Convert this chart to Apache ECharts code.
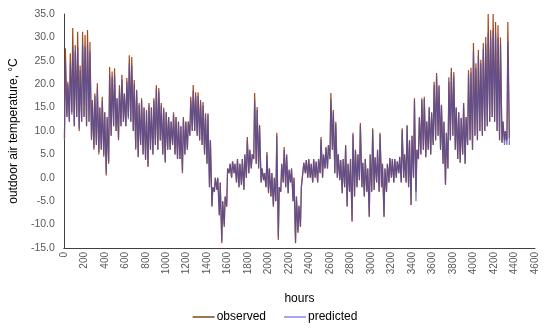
<!DOCTYPE html>
<html>
<head>
<meta charset="utf-8">
<script src="https://cdn.jsdelivr.net/npm/echarts@6/dist/echarts.min.js"></script>
<style>html,body{margin:0;padding:0;background:#fff;}#c{width:550px;height:330px;}</style>
</head>
<body>
<div id="c"></div>
<script>
// Daily high / low temperatures (°C), one value per day (24 h)
const obsHigh = [
  27.7, 20.5, 26.6, 32, 28.4, 31.2, 24, 31.2, 30.5, 31.6,
  29, 16.6, 18, 20.2, 15, 17.3, 14, 13, 23.7, 22.7,
  23.4, 17, 19.8, 22, 18, 21.3, 26.2, 25.8, 20.9, 18.8,
  16, 17, 15, 14.5, 16, 15, 17, 19.8, 19.2, 16,
  15, 14, 13, 12, 14, 13, 12, 11, 13, 12,
  12, 17.3, 19.8, 18.3, 18.3, 16.6, 16.2, 13.8, 13.8, 8,
  -2, 0, 0, -1, -5, -4, 2, 3, 3.5, 3,
  4, 3, 4, 5, 8.7, 6, 5, 18.1, 15.1, 11.3,
  2, 1, 5.5, 2, 1, 0, 9.6, -2, 3, 6.6,
  5, 1.7, 2, 0, -4, -6, -2, 3.2, 3.8, 4,
  3, 4, 3.5, 4, 8.7, 5, 6.6, 7, 18.1, 14.5,
  12, 5, 3.8, 4, 7, 3, 4, 9.6, 6, 5,
  11.7, 3.2, 4, 2, 5, 10.6, 4.4, 6, 9.6, 3,
  2, 3, 4.2, 4, 4, 3.5, 4.5, 10.6, 5, 11.3,
  8, 9, 17, 6, 13, 17, 17.3, 12, 15.1, 14,
  20.5, 22.4, 19.8, 15.6, 12, 9.6, 21.5, 23.5, 22.6, 15,
  14, 12.8, 16, 13, 23, 23.5, 28.8, 24.5, 27.3, 25.2,
  28.8, 30.1, 35, 31.6, 35, 33.3, 32.6, 30, 12, 10, 33.3
];
const obsLow = [
  8, 13, 12, 14, 11, 13, 10, 12, 13, 11,
  12, 8, 6, 7, 5, 6, 4.5, 0.5, 3, 9,
  11, 10, 8, 11, 12, 11, 13, 12, 10, 6,
  4.4, 7, 5, 3.8, 2.3, 6, 5, 7, 6, 8,
  5, 3.2, 6, 6, 7, 5, 4, 4, 1, 5,
  6, 9, 10, 10, 9, 8, 7, 5, 3, -2,
  -6.2, -3, -2.6, -8, -14, -10.5, -6.2, 1, 0, 1,
  -1, -2, -1.5, -2.6, 0, 1, 2, 4, 3, 2,
  -1, -0.5, -2, -3.3, -4, -6.2, -5, -13.3, -3, -1,
  -2, -3.3, -1, -5, -14, -11.8, -10.5, -2, 1, 0,
  0, -1, 0, -1, 1, 0, 2, 2, 4, 6,
  1, 0, -0.5, -3.3, -2, -6.2, -3, -9.4, -4, -2,
  -0.5, -2, -4, -3, -8.4, -3, -2.6, -1, -3, -2,
  -8.4, -3, -1, 0, -1, 0, 1, -1, 0, -1,
  -2, -5.8, 0, -3, 4, 5, 6, 4.4, 6, 5,
  7, 8, 9, 6, 3, -1.5, 2, 8, 9, 6,
  4, 3.2, 5, 3, 7, 8, 6, 9, 8, 10,
  9, 10, 11, 12, 13, 12, 10, 8, 7.5, 8, 8, 8.5
];
const predHigh = [
  25, 20, 24.5, 28, 27, 28, 23, 28.5, 28, 28.5,
  27, 16, 17.5, 19, 15, 16.5, 14, 13, 22, 21.5,
  22, 17, 19, 21, 18, 20.5, 24.5, 24, 20, 18.5,
  15.5, 16.5, 15, 14, 15.5, 15, 16.5, 19, 18.5, 15.5,
  14.5, 14, 13, 12, 13.5, 13, 12, 11, 12.5, 12,
  12, 16.5, 18.5, 17.5, 17.5, 16, 15.5, 13.5, 13.5, 8,
  -2, 0, 0, -1, -5, -4, 2, 3, 3.5, 3,
  4, 3, 4, 5, 8, 6, 5, 16.5, 14.5, 11,
  2, 1, 5, 2, 1, 0, 9, -2, 3, 6,
  5, 1.7, 2, 0, -4, -6, -2, 3.2, 3.8, 4,
  3, 4, 3.5, 4, 8.2, 5, 6.4, 7, 16.8, 14,
  11.5, 5, 3.8, 4, 6.8, 3, 4, 9.2, 6, 5,
  11.2, 3.2, 4, 2, 5, 10.2, 4.4, 6, 9.2, 3,
  2, 3, 4.2, 4, 4, 3.5, 4.5, 10.2, 5, 11,
  8, 9, 16.5, 6, 12.8, 16.6, 16.8, 12, 14.8, 13.8,
  19.8, 21.8, 19.5, 15.4, 12, 9.6, 20.5, 22.5, 21.8, 15,
  14, 12.8, 16, 13, 22, 22.5, 27, 23.5, 26, 24.5,
  27.5, 28.5, 31, 30, 31.5, 31, 30, 28.5, 12, 10, 29
];
const predLow = [
  8.5, 13, 12, 13.5, 11, 13, 10.5, 12, 13, 11,
  12, 8.5, 6.5, 7, 5.5, 6, 5, 1, 3.5, 9,
  11, 10, 8.5, 11, 12, 11, 12.5, 12, 10, 6.5,
  4.5, 7, 5, 4, 2.5, 6, 5, 7, 6, 8,
  5, 3.5, 6, 6, 7, 5, 4, 4, 1.5, 5,
  6, 9, 10, 10, 9, 8, 7, 5, 3, -2,
  -6, -3, -2.5, -8, -13.5, -10, -6, 1, 0, 1,
  -1, -2, -1.5, -2.5, 0, 1, 2, 4, 3, 2,
  -1, -0.5, -2, -3, -4, -6, -5, -12.6, -3, -1,
  -2, -3.3, -1, -5, -13.8, -11.5, -10.3, -2, 1, 0,
  0, -1, 0, -1, 1, 0, 2, 2, 4, 6,
  1, 0, -0.5, -3.3, -2, -6, -3, -9.2, -4, -2,
  -0.5, -2, -4, -3, -8.2, -3, -2.6, -1, -3, -2,
  -8.2, -3, -1, 0, -1, 0, 1, -1, 0, -1,
  -2, -5.8, 0, -5, 4, 5, 6, 4.4, 6, 5,
  7, 8, 9, 6, 3, -1.5, 2, 8, 9, 6,
  4, 3.2, 5, 3, 7, 8, 6, 9, 8, 10,
  9, 10, 11, 12, 13, 12, 10, 8, 7.5, 7, 7, 7
];
const seriesNames = ['observed', 'predicted'];

function buildSeries(lows, highs) {
  const pts = [];
  for (let d = 0; d < lows.length; d++) {
    pts.push([d * 24 + 6, lows[d]]);
    if (d < highs.length) pts.push([d * 24 + 15, highs[d]]);
  }
  return pts;
}

const chart = echarts.init(document.getElementById('c'), null, {renderer: 'canvas'});
const font = 'Liberation Sans, Arial, sans-serif';
chart.setOption({
  animation: false,
  textStyle: {fontFamily: font},
  grid: {left: 59, right: 15, top: 14, bottom: 82},
  xAxis: {
    type: 'value', min: 0, max: 4600, interval: 200,
    name: 'hours', nameLocation: 'middle', nameGap: 45,
    nameTextStyle: {fontSize: 12, color: '#000', fontFamily: font},
    axisLine: {show: true, onZero: false, lineStyle: {color: '#404040', width: 1}},
    axisTick: {show: false},
    splitLine: {show: false},
    axisLabel: {rotate: 90, fontSize: 10, color: '#595959', margin: 4, fontFamily: font,
      formatter: v => String(v)}
  },
  yAxis: {
    type: 'value', min: -15, max: 35, interval: 5,
    name: 'outdoor air temperature, \u00B0C', nameLocation: 'middle', nameGap: 41,
    nameTextStyle: {fontSize: 12, color: '#000', fontFamily: font},
    axisLine: {show: true, lineStyle: {color: '#404040', width: 1}},
    axisTick: {show: false},
    splitLine: {show: false},
    axisLabel: {formatter: v => v.toFixed(1), fontSize: 10.5, color: '#595959', margin: 9, fontFamily: font}
  },
  legend: {
    bottom: 2, left: 'center', itemWidth: 22, itemHeight: 1.5, itemGap: 18,
    icon: 'rect',
    textStyle: {fontSize: 12, color: '#000', fontFamily: font, padding: [0, 0, 0, -3]},
    data: [
      {name: seriesNames[0], itemStyle: {color: '#7a4a16'}},
      {name: seriesNames[1], itemStyle: {color: '#8a8ae8'}}
    ]
  },
  series: [
    {
      type: 'line', name: seriesNames[0], data: buildSeries(obsLow, obsHigh),
      showSymbol: false, symbol: 'none', color: '#7a4a16',
      lineStyle: {width: 1.2, color: '#a64a1e'}
    },
    {
      type: 'line', name: seriesNames[1], data: buildSeries(predLow, predHigh),
      showSymbol: false, symbol: 'none', color: '#8a8ae8',
      lineStyle: {width: 1.2, color: '#5050a8', opacity: 0.78}
    }
  ]
});
</script>
</body>
</html>
